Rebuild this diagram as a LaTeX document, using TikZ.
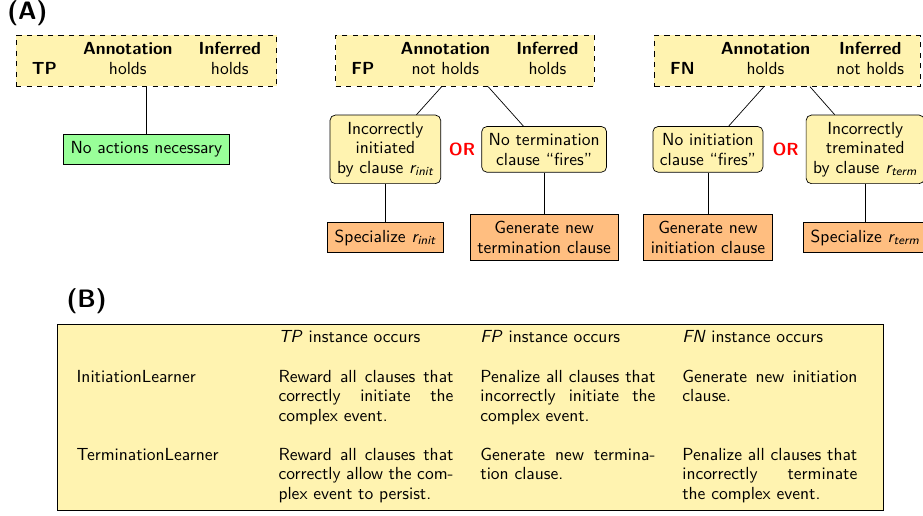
\documentclass[tikz,border=0pt]{standalone}
\usepackage{amsmath}
\usepackage{amssymb}
\usepackage{tikz}

\definecolor{caseyellow}{RGB}{255,243,176}
\definecolor{actorange}{RGB}{255,190,128}
\definecolor{okgreen}{RGB}{153,255,153}

\newcommand{\rsub}[1]{\textit{r\textsubscript{#1}}}
\newcommand{\casehead}[3]{%
  \begin{tabular}{@{}l@{\hspace{15pt}}c@{\hspace{15pt}}c@{}}
    & \textbf{Annotation} & \textbf{Inferred}\\
    \textbf{#1} & #2 & #3
  \end{tabular}}

\begin{document}
\begin{tikzpicture}[
        every node/.style={font=\sffamily\fontsize{10}{11.1}\selectfont},
        case/.style={draw, dashed, fill=caseyellow, inner xsep=9pt, inner ysep=3.5pt},
        reason/.style={draw, rounded corners=3pt, fill=caseyellow, align=center, inner sep=4pt},
        action/.style={draw, fill=actorange, align=center, inner sep=4pt},
        noaction/.style={draw, fill=okgreen, inner sep=4pt},
        ortext/.style={text=red, font=\sffamily\bfseries},
        part/.style={font=\sffamily\bfseries\Large}
    ]
        \useasboundingbox (0,0) rectangle (18.54,-10.36);

        \node[part] (partA) at (0.55,-0.27) {(A)};

        % true positive
        \node[case] (tp) at (2.94,-1.22) {\casehead{TP}{holds}{holds}};
        \node[noaction] (tpact) at (2.94,-3.00) {No actions necessary};
        \draw (tp) -- (tpact);

        % false positive
        \node[case] (fp) at (9.34,-1.22) {\casehead{FP}{not holds}{holds}};
        \node[reason] (fpinit) at (7.74,-3.00) {Incorrectly\\ initiated\\ by clause \rsub{init}};
        \node[reason] (fpterm) at (10.93,-3.00) {No termination\\ clause ``fires''};
        \node[ortext] (fpor) at (9.28,-3.01) {OR};
        \node[action] (fpspec) at (7.74,-4.77) {Specialize \rsub{init}};
        \node[action] (fpgen) at (10.93,-4.77) {Generate new\\ termination clause};
        \draw (fp) -- (fpinit);
        \draw (fp) -- (fpterm);
        \draw (fpinit) -- (fpspec);
        \draw (fpterm) -- (fpgen);

        % false negative
        \node[case] (fn) at (15.81,-1.22) {\casehead{FN}{holds}{not holds}};
        \node[reason] (fninit) at (14.22,-3.00) {No initiation\\ clause ``fires''};
        \node[reason] (fnterm) at (17.38,-3.00) {Incorrectly\\ treminated\\ by clause \rsub{term}};
        \node[ortext] (fnor) at (15.78,-3.01) {OR};
        \node[action] (fngen) at (14.22,-4.77) {Generate new\\ initiation clause};
        \node[action] (fnspec) at (17.38,-4.77) {Specialize \rsub{term}};
        \draw (fn) -- (fninit);
        \draw (fn) -- (fnterm);
        \draw (fninit) -- (fngen);
        \draw (fnterm) -- (fnspec);

        \node[part] (partB) at (1.74,-6.05) {(B)};

        \node[draw, fill=caseyellow, inner xsep=11pt, inner ysep=3pt] (learners) at (9.45,-8.38) {
            \begin{tabular}{@{}p{100pt}@{\hspace{15.4pt}}p{100pt}@{\hspace{15.4pt}}p{100pt}@{\hspace{15.4pt}}p{100pt}@{\hspace{4pt}}}
                & \textit{TP} instance occurs & \textit{FP} instance occurs & \textit{FN} instance occurs \\
                \noalign{\vskip 11.4pt}
                InitiationLearner
                & Reward all clauses that\linebreak correctly initiate the\linebreak complex event.
                & Penalize all clauses that\linebreak incorrectly initiate the\linebreak complex event.
                & Generate new initiation\linebreak clause. \\
                \noalign{\vskip 11.4pt}
                TerminationLearner
                & Reward all clauses that\linebreak correctly allow the com-\linebreak plex event to persist.
                & Generate new termina-\linebreak tion clause.
                & Penalize all clauses that\linebreak incorrectly terminate\linebreak the complex event.
            \end{tabular}
        };
\end{tikzpicture}
\end{document}
